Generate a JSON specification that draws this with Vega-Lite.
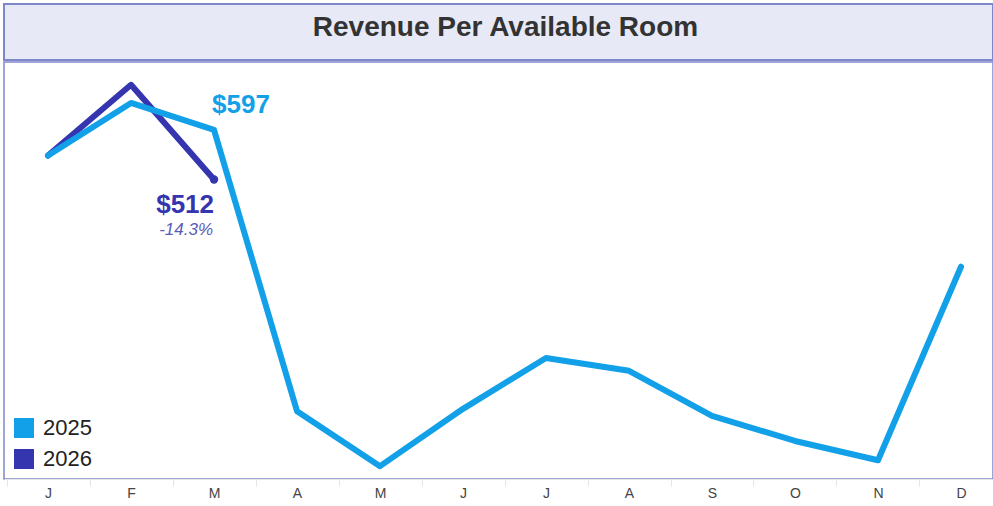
{
  "$schema": "https://vega.github.io/schema/vega-lite/v6.json",
  "padding": {"left": 3, "top": 3, "right": 0, "bottom": 0},
  "background": "white",
  "spacing": 0,
  "resolve": {"legend": {"color": "independent"}, "scale": {"color": "independent"}},
  "config": {
    "font": "Liberation Sans",
    "view": {"stroke": "#7f86c9", "strokeWidth": 2}
  },
  "vconcat": [
    {
      "width": 989,
      "height": 56,
      "view": {"fill": "#e8e9f6", "stroke": "#7f86c9", "strokeWidth": 2},
      "data": {"values": [{"t": "Revenue Per Available Room"}]},
      "mark": {"type": "text", "fontSize": 28, "fontWeight": "bold", "color": "#333333", "baseline": "middle", "align": "center", "dx": 7, "dy": -4},
      "encoding": {"text": {"field": "t"}}
    },
    {
      "width": 989,
      "height": 417,
      "view": {"stroke": "#7f86c9", "strokeWidth": 1.5},
      "data": {"values": [
        {"month": "J", "year": "2025", "rev": 553},
        {"month": "F", "year": "2025", "rev": 643},
        {"month": "M", "year": "2025", "rev": 597},
        {"month": "A", "year": "2025", "rev": 116},
        {"month": "May", "year": "2025", "rev": 22},
        {"month": "Jun", "year": "2025", "rev": 120},
        {"month": "Jul", "year": "2025", "rev": 207},
        {"month": "Aug", "year": "2025", "rev": 185},
        {"month": "S", "year": "2025", "rev": 108},
        {"month": "O", "year": "2025", "rev": 65},
        {"month": "N", "year": "2025", "rev": 32},
        {"month": "D", "year": "2025", "rev": 363},
        {"month": "J", "year": "2026", "rev": 553},
        {"month": "F", "year": "2026", "rev": 674},
        {"month": "M", "year": "2026", "rev": 512}
      ]},
      "encoding": {
        "x": {
          "field": "month", "type": "ordinal",
          "sort": ["J", "F", "M", "A", "May", "Jun", "Jul", "Aug", "S", "O", "N", "D"],
          "scale": {"type": "point", "padding": 0.458, "align": 0.579},
          "axis": {
            "title": null,
            "labelAngle": 0,
            "labelExpr": "datum.value == 'May' ? 'M' : datum.value == 'Jun' || datum.value == 'Jul' ? 'J' : datum.value == 'Aug' ? 'A' : datum.value",
            "labelFontSize": 14,
            "labelColor": "#444444",
            "labelPadding": 0,
            "labelOffset": 41.5,
            "domainColor": "#e6e6e6",
            "tickColor": "#e6e6e6",
            "tickSize": 7,
            "tickOffset": -41.5,
            "grid": false
          }
        },
        "y": {
          "field": "rev", "type": "quantitative",
          "scale": {"domain": [0, 713], "nice": false, "zero": true},
          "axis": null
        }
      },
      "layer": [
        {
          "transform": [{"filter": "datum.year == '2026'"}],
          "mark": {"type": "line", "strokeWidth": 6, "strokeCap": "round", "strokeJoin": "round"},
          "encoding": {
            "color": {
              "field": "year", "type": "nominal",
              "scale": {"domain": ["2025", "2026"], "range": ["#12a0e8", "#3535b0"]},
              "legend": {
                "title": null,
                "orient": "bottom-left",
                "offset": 9,
                "symbolType": "square",
                "symbolSize": 400,
                "symbolStrokeWidth": 0,
                "symbolOpacity": 1,
                "labelFontSize": 22,
                "labelColor": "#222222",
                "rowPadding": 9,
                "labelOffset": 8,
                "encode": {
                  "symbols": {
                    "update": {
                      "fill": {"signal": "datum.value == '2025' ? '#12a0e8' : '#3535b0'"},
                      "fillOpacity": {"value": 1}
                    }
                  }
                }
              }
            }
          }
        },
        {
          "transform": [{"filter": "datum.year == '2025'"}],
          "mark": {"type": "line", "strokeWidth": 6, "strokeCap": "round", "strokeJoin": "round"},
          "encoding": {"color": {"field": "year", "type": "nominal"}}
        },
        {
          "transform": [{"filter": "datum.year == '2026' && datum.month == 'M'"}],
          "mark": {"type": "point", "filled": true, "size": 70, "opacity": 1, "color": "#3535b0"}
        },
        {
          "transform": [{"filter": "datum.year == '2025' && datum.month == 'M'"}],
          "mark": {"type": "text", "align": "left", "baseline": "middle", "dx": -2, "dy": -25, "fontSize": 26, "fontWeight": "bold", "color": "#12a0e8"},
          "encoding": {"text": {"value": "$597"}}
        },
        {
          "transform": [{"filter": "datum.year == '2026' && datum.month == 'M'"}],
          "mark": {"type": "text", "align": "right", "baseline": "middle", "dx": 0, "dy": 25, "fontSize": 26, "fontWeight": "bold", "color": "#3535b0"},
          "encoding": {"text": {"value": "$512"}}
        },
        {
          "transform": [{"filter": "datum.year == '2026' && datum.month == 'M'"}],
          "mark": {"type": "text", "align": "right", "baseline": "middle", "dx": -1, "dy": 50, "fontSize": 17, "fontStyle": "italic", "color": "#5a5ab8"},
          "encoding": {"text": {"value": "-14.3%"}}
        }
      ]
    }
  ]
}
